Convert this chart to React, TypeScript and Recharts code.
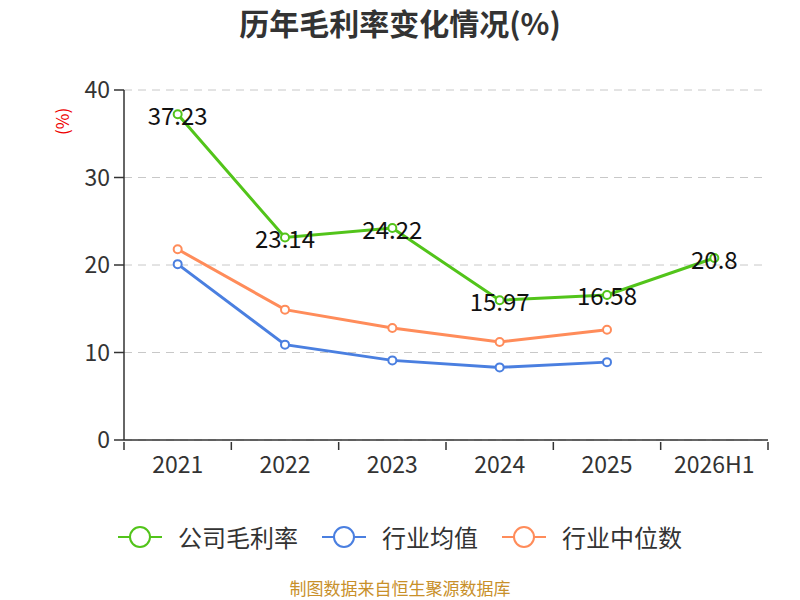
import { CartesianGrid, Line, LineChart, XAxis, YAxis } from 'recharts'

const years = ['2021', '2022', '2023', '2024', '2025', '2026H1']
const companyMargin = [37.23, 23.14, 24.22, 15.97, 16.58, 20.8]
const industryAvg = [20.1, 10.9, 9.1, 8.3, 8.9, null]
const industryMedian = [21.8, 14.9, 12.8, 11.2, 12.6, null]
const yTicks = [0, 10, 20, 30, 40]

const GREEN = '#52c41a'
const BLUE = '#4a7fe0'
const ORANGE = '#ff8c5a'

const data = years.map((year, i) => ({
  year,
  company: companyMargin[i],
  avg: industryAvg[i],
  median: industryMedian[i],
}))

const legendItems = [
  { name: '公司毛利率', color: GREEN },
  { name: '行业均值', color: BLUE },
  { name: '行业中位数', color: ORANGE },
]

const font = '"Noto Sans CJK SC", "Noto Sans", sans-serif'
const CHART_W = 800
const PLOT_LEFT = 124
const PLOT_RIGHT = 32
const BAND = (CHART_W - PLOT_LEFT - PLOT_RIGHT) / years.length

function ValueLabel(props: any) {
  const { x, y, value } = props
  return (
    <text x={x} y={y} textAnchor="middle" dominantBaseline="central" fontSize={24} fill="#111">
      {value}
    </text>
  )
}

// category label in the middle, tick marks on the band edges
function BandTick(props: any) {
  const { x, y, payload, index } = props
  const last = index === years.length - 1
  return (
    <g>
      <line x1={x - BAND / 2} y1={y - 8} x2={x - BAND / 2} y2={y} stroke="#333" strokeWidth={1.5} />
      {last && <line x1={x + BAND / 2} y1={y - 8} x2={x + BAND / 2} y2={y} stroke="#333" strokeWidth={1.5} />}
      <text x={x} y={y + 23} textAnchor="middle" fontSize={23} fill="#333">
        {payload.value}
      </text>
    </g>
  )
}

export default function App() {
  return (
    <div style={{ position: 'fixed', left: 0, top: 0, width: 800, height: 600, background: '#fff', fontFamily: font }}>
      <div style={{ position: 'absolute', top: 2, width: 800, textAlign: 'center', fontSize: 30, lineHeight: '40px', fontWeight: 'bold', color: '#333' }}>
        历年毛利率变化情况(%)
      </div>
      <LineChart width={CHART_W} height={600} data={data} margin={{ top: 90, right: PLOT_RIGHT, left: 0, bottom: 130 }}>
        <CartesianGrid vertical={false} stroke="#c8c8c8" strokeDasharray="8 6" />
        <XAxis
          dataKey="year"
          scale="band"
          tick={<BandTick />}
          stroke="#333"
          strokeWidth={1.5}
          tickLine={false}
          tickSize={8}
          interval={0}
        />
        <YAxis
          width={PLOT_LEFT}
          domain={[0, 40]}
          ticks={yTicks}
          tick={{ fontSize: 23, fill: '#333' }}
          stroke="#333"
          strokeWidth={1.5}
          tickSize={10}
          tickMargin={4}
          label={{ value: '(%)', angle: -90, position: 'insideTopLeft', dx: 52, dy: 40, fill: '#e00', fontSize: 17 }}
        />
        <Line
          dataKey="company"
          stroke={GREEN}
          strokeWidth={3}
          dot={{ r: 4, fill: '#fff', stroke: GREEN, strokeWidth: 2 }}
          label={<ValueLabel />}
          isAnimationActive={false}
        />
        <Line
          dataKey="avg"
          stroke={BLUE}
          strokeWidth={3}
          dot={{ r: 4, fill: '#fff', stroke: BLUE, strokeWidth: 2 }}
          isAnimationActive={false}
        />
        <Line
          dataKey="median"
          stroke={ORANGE}
          strokeWidth={3}
          dot={{ r: 4, fill: '#fff', stroke: ORANGE, strokeWidth: 2 }}
          isAnimationActive={false}
        />
      </LineChart>
      <div style={{ position: 'absolute', top: 519, width: 800, display: 'flex', justifyContent: 'center', gap: 24 }}>
        {legendItems.map((item) => (
          <div key={item.name} style={{ display: 'flex', alignItems: 'center' }}>
            <svg width={44} height={24} style={{ marginRight: 16 }}>
              <line x1={0} y1={12} x2={44} y2={12} stroke={item.color} strokeWidth={2} />
              <circle cx={22} cy={12} r={10} fill="#fff" stroke={item.color} strokeWidth={2} />
            </svg>
            <span style={{ fontSize: 24, color: '#333' }}>{item.name}</span>
          </div>
        ))}
      </div>
      <div style={{ position: 'absolute', top: 578, width: 800, textAlign: 'center', fontSize: 17, lineHeight: '20px', color: '#c8902a' }}>
        制图数据来自恒生聚源数据库
      </div>
    </div>
  )
}
